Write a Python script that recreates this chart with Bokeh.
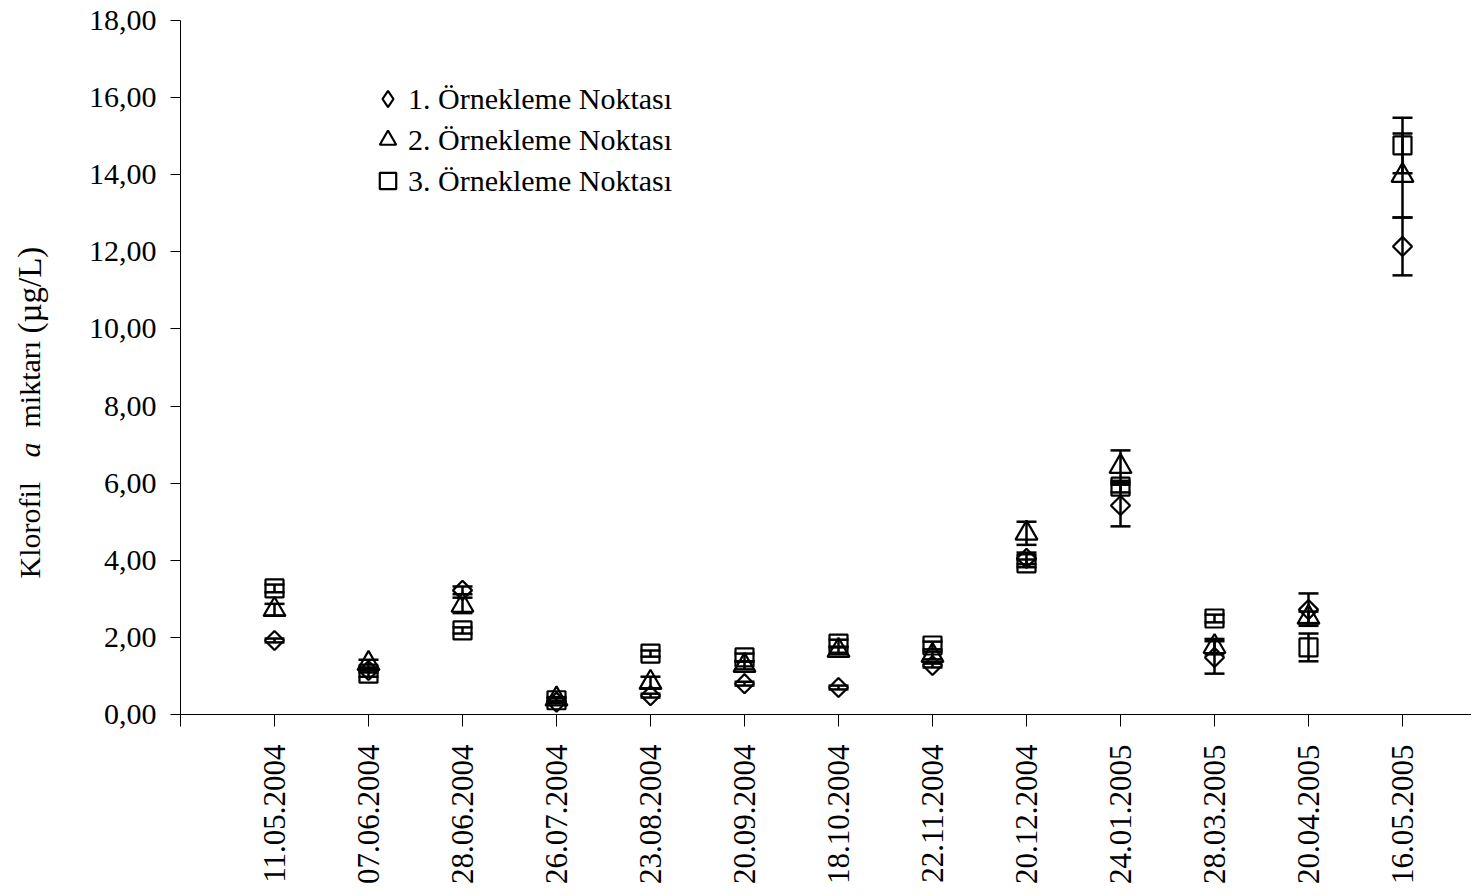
import math
from bokeh.plotting import figure
from bokeh.models import (Range1d, FixedTicker, ColumnDataSource, Whisker, TeeHead,
                          Legend, LegendItem)
from bokeh.core.properties import value
from bokeh.embed import file_html
from bokeh.resources import INLINE

# ---- data ----
dates = ["11.05.2004", "07.06.2004", "28.06.2004", "26.07.2004", "23.08.2004",
         "20.09.2004", "18.10.2004", "22.11.2004", "20.12.2004", "24.01.2005",
         "28.03.2005", "20.04.2005", "16.05.2005"]
series_names = ["1. Örnekleme Noktası", "2. Örnekleme Noktası", "3. Örnekleme Noktası"]
s1 = [1.92, 1.14, 3.22, 0.32, 0.49, 0.80, 0.70, 1.27, 4.05, 5.42, 1.48, 2.72, 12.14]
s2 = [2.72, 1.32, 2.83, 0.40, 0.83, 1.27, 1.66, 1.53, 4.70, 6.43, 1.76, 2.52, 13.98]
s3 = [3.27, 1.06, 2.18, 0.37, 1.58, 1.48, 1.84, 1.79, 3.92, 5.91, 2.49, 1.74, 14.76]
e1 = [0.05, 0.05, 0.10, 0.03, 0.05, 0.05, 0.05, 0.05, 0.15, 0.54, 0.42, 0.42, 0.75]
e2 = [0.15, 0.10, 0.20, 0.05, 0.15, 0.10, 0.10, 0.10, 0.30, 0.42, 0.20, 0.15, 1.09]
e3 = [0.10, 0.08, 0.08, 0.05, 0.08, 0.10, 0.10, 0.10, 0.10, 0.15, 0.10, 0.36, 0.72]
y_ticks = [0, 2, 4, 6, 8, 10, 12, 14, 16, 18]
y_tick_labels = ["0,00", "2,00", "4,00", "6,00", "8,00", "10,00", "12,00", "14,00", "16,00", "18,00"]
y_title_parts = ["Klorofil", "a", "miktarı", "(µg/L)"]
y_title_styles = ["normal", "italic", "normal", "normal"]
y_title_sizes = ["30px", "30px", "30px", "33px"]

FONT = "Liberation Serif"
FS = "30px"

xs = list(range(1, len(dates) + 1))

# geometry (pixels): whole canvas is the frame; axes are pinned at data 0
W, H = 1471, 888
AX_LEFT, AX_BOTTOM, AX_TOP = 180, 714, 20
PX_X = 94.0
PX_Y = (AX_BOTTOM - AX_TOP) / 18.0
x0 = -AX_LEFT / PX_X
x1 = (W - AX_LEFT) / PX_X
ytop = AX_BOTTOM / PX_Y
ybot = -(H - AX_BOTTOM) / PX_Y

p = figure(frame_width=W, frame_height=H,
           x_range=Range1d(x0, x1), y_range=Range1d(ybot, ytop),
           output_backend="svg", toolbar_location=None,
           min_border=0)
p.outline_line_color = None
p.grid.visible = False
p.background_fill_color = "white"
p.border_fill_color = "white"

# axes
p.xaxis.fixed_location = 0
p.yaxis.fixed_location = 0
p.xaxis.bounds = (0, x1)
p.yaxis.bounds = (0, 18)
p.yaxis.ticker = FixedTicker(ticks=y_ticks)
p.yaxis.major_label_overrides = {t: l for t, l in zip(y_ticks, y_tick_labels)}
p.xaxis.ticker = FixedTicker(ticks=[0] + xs)
ov = {0: ""}
ov.update({x: d for x, d in zip(xs, dates)})
p.xaxis.major_label_overrides = ov
p.xaxis.major_label_orientation = math.pi / 2
for ax in (p.xaxis[0], p.yaxis[0]):
    ax.axis_line_color = "black"
    ax.axis_line_width = 1
    ax.major_tick_line_color = "black"
    ax.minor_tick_line_color = None
    ax.major_tick_in = 0
    ax.major_label_text_font = FONT
    ax.major_label_text_font_size = FS
    ax.major_label_text_color = "black"
p.xaxis.major_label_text_font_size = "31px"
p.xaxis.major_tick_out = 12
p.yaxis.major_tick_out = 10
p.xaxis.major_label_standoff = 18
p.yaxis.major_label_standoff = 14

# series
specs = [
    (s1, e1, dict(marker="square", size=13.5, angle=math.pi / 4)),
    (s2, e2, dict(marker="triangle", size=22)),
    (s3, e3, dict(marker="square", size=18)),
]
renderers = []
for vals, errs, mk in specs:
    src = ColumnDataSource(dict(x=xs, y=vals,
                                upper=[v + e for v, e in zip(vals, errs)],
                                lower=[v - e for v, e in zip(vals, errs)]))
    r = p.scatter("x", "y", source=src, fill_alpha=0, line_color="black", line_width=2.2, **mk)
    renderers.append(r)
    w = Whisker(base="x", upper="upper", lower="lower", source=src, dimension="height",
                line_color="black", line_width=2.5,
                upper_head=TeeHead(size=20, line_width=2.5, line_color="black"),
                lower_head=TeeHead(size=20, line_width=2.5, line_color="black"))
    p.add_layout(w)

# legend-only renderer for the diamond symbol (legend glyphs ignore marker angle)
leg_diamond = p.scatter(x=[float("nan")], y=[float("nan")], marker="diamond", size=20,
                        fill_alpha=0, line_color="black", line_width=2.2)
legend_renderers = [leg_diamond, renderers[1], renderers[2]]

legend = Legend(items=[LegendItem(label=n, renderers=[r]) for n, r in zip(series_names, legend_renderers)],
                location=(AX_LEFT + 187, (H - AX_BOTTOM) + 513), orientation="vertical",
                glyph_width=41, glyph_height=41, label_standoff=0, spacing=0, padding=0, margin=0,
                border_line_color=None, background_fill_alpha=0,
                label_text_font=FONT, label_text_font_size=FS, label_text_color="black",
                label_height=41)
p.add_layout(legend)

# y axis title with italic "a" (text glyphs, rotated)
title_x_px = 29
title_start_px = [578, 457, 427, 333]   # canvas y where each part starts (reading upward)
tsrc = ColumnDataSource(dict(
    x=[(title_x_px - AX_LEFT) / PX_X] * len(y_title_parts),
    y=[(AX_BOTTOM - s) / PX_Y for s in title_start_px],
    text=y_title_parts, style=y_title_styles, size=y_title_sizes))
p.text(x="x", y="y", text="text", source=tsrc, angle=math.pi / 2,
       text_align="left", text_baseline="middle", text_font=value(FONT),
       text_font_size="size", text_font_style="style", text_color="black")

open("out.html", "w").write(file_html(p, INLINE))
